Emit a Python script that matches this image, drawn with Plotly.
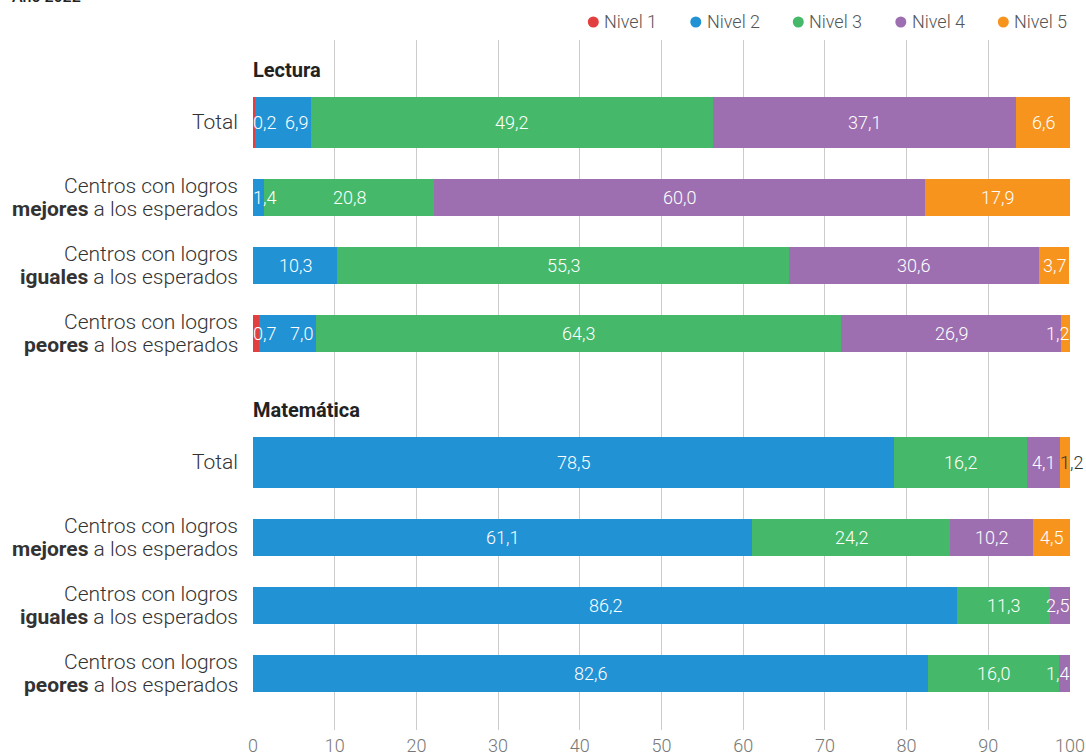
import plotly.graph_objects as go

# ---------------- data ----------------
groups = ["Lectura", "Matemática"]
row_labels = [
    "Total",
    "Centros con logros<br><b>mejores</b> a los esperados",
    "Centros con logros<br><b>iguales</b> a los esperados",
    "Centros con logros<br><b>peores</b> a los esperados",
]
levels = ["Nivel 1", "Nivel 2", "Nivel 3", "Nivel 4", "Nivel 5"]

# values per level, rows: Lectura (Total, mejores, iguales, peores), Matemática (same)
nivel1 = [0.2, None, None, 0.7, None, None, None, None]
nivel2 = [6.9, 1.4, 10.3, 7.0, 78.5, 61.1, 86.2, 82.6]
nivel3 = [49.2, 20.8, 55.3, 64.3, 16.2, 24.2, 11.3, 16.0]
nivel4 = [37.1, 60.0, 30.6, 26.9, 4.1, 10.2, 2.5, 1.4]
nivel5 = [6.6, 17.9, 3.7, 1.2, 1.2, 4.5, None, None]
series = [nivel1, nivel2, nivel3, nivel4, nivel5]

x_ticks = [0, 10, 20, 30, 40, 50, 60, 70, 80, 90, 100]
title_text = "Año 2022"

# ---------------- styling ----------------
colors = ["#e2403f", "#2192d4", "#45b969", "#9d6fb0", "#f7941e"]
FONT = "Roboto"
W, H = 1086, 754
PLOT_L, PLOT_R, PLOT_T, PLOT_B = 253, 1070, 40, 730   # window pixels
ML, MT = PLOT_L, PLOT_T
MR = W - PLOT_R
MB = H - PLOT_B
plot_w = PLOT_R - PLOT_L
plot_h = PLOT_B - PLOT_T
px_per_unit = plot_w / 100.0

# layout positions (in pixel-like units from plot top)
row_offsets = [0, 75, 143, 211]
row_widths = [51, 37, 37, 37]
group_step = 340
first_row = 82
line_gap = 11.5

ypos, widths, cats = [], [], []
header_y = []
for g in range(len(groups)):
    base = first_row + group_step * g
    header_y.append(base - 52)
    for r in range(len(row_labels)):
        ypos.append(base + row_offsets[r])
        widths.append(row_widths[r])
        cats.append(row_labels[r])

fig = go.Figure()
for i, lev in enumerate(levels):
    fig.add_trace(go.Bar(
        x=series[i], y=ypos, width=widths, orientation="h",
        marker=dict(color=colors[i], line=dict(width=0)),
        name=lev, showlegend=False, hoverinfo="x+name",
    ))

annotations = []
shapes = []


def fmt(v):
    return f"{v:.1f}".replace(".", ",")


def text_w(s):
    digits = sum(ch.isdigit() for ch in s)
    return (10.1 * digits + 4.5 * (len(s) - digits)) / px_per_unit  # data units

# segment value labels
for r in range(len(ypos)):
    start = 0.0
    prev_right = -1e9
    for i in range(len(levels)):
        v = series[i][r]
        if v is None or v == 0:
            continue
        end = start + v
        s = fmt(v)
        w = text_w(s)
        c = (start + end) / 2
        left, right = c - w / 2, c + w / 2
        anchor, xpos, color, shift = "center", c, "white", 0
        if left < 0:
            anchor, xpos, shift = "left", 0, -2
            left, right = 0, w
        elif right > 100:
            anchor, xpos, shift = "right", 100, 1
            left, right = 100 - w, 100
        if left < prev_right:
            # try right-aligned in its own segment
            anchor, xpos, shift = "right", end, -1
            left, right = end - w, end
            if left < prev_right:
                anchor, xpos, shift, color = "left", start, -2, "#333333"
                left, right = start, start + w
        annotations.append(dict(
            x=xpos, y=ypos[r], xref="x", yref="y", text=s, showarrow=False,
            xanchor=anchor, yanchor="middle", xshift=shift,
            font=dict(family=FONT, size=18, color=color, weight=300),
        ))
        prev_right = right
        start = end

# category labels (each line separately for tight line spacing)
for r in range(len(ypos)):
    lines = cats[r].split("<br>")
    n = len(lines)
    for k, line in enumerate(lines):
        dy = (k - (n - 1) / 2) * 2 * line_gap
        annotations.append(dict(
            x=0, y=ypos[r] + dy, xref="paper", yref="y", text=line, showarrow=False,
            xanchor="right", yanchor="middle", align="right", xshift=-13,
            font=dict(family=FONT, size=21, color="#333333", weight=300),
        ))

# group headers
for g, name in enumerate(groups):
    annotations.append(dict(
        x=0, y=header_y[g], xref="paper", yref="y", text=f"<b>{name}</b>",
        showarrow=False, xanchor="left", yanchor="middle", xshift=-2,
        font=dict(family=FONT, size=20, color="#222222"),
    ))

# legend (dots + text), right aligned at the top
leg_y = 1 + 18 / plot_h
leg_step = 102.5
leg_first = 593.3
for i, lev in enumerate(levels):
    cx = (leg_first + leg_step * i - PLOT_L) / plot_w
    shapes.append(dict(
        type="circle", xref="paper", yref="paper", xsizemode="pixel", ysizemode="pixel",
        xanchor=cx, yanchor=leg_y, x0=-5.5, x1=5.5, y0=-5.5, y1=5.5,
        fillcolor=colors[i], line=dict(width=0),
    ))
    annotations.append(dict(
        x=cx, y=leg_y, xref="paper", yref="paper", text=lev, showarrow=False,
        xanchor="left", yanchor="middle", xshift=9,
        font=dict(family=FONT, size=18, color="#555555", weight=300),
    ))

# title (mostly cropped at the top, as in the reference)
annotations.append(dict(
    x=(10 - PLOT_L) / plot_w, y=1 + (PLOT_T - 8) / plot_h, xref="paper", yref="paper",
    xanchor="left", yanchor="bottom", text=title_text, showarrow=False,
    font=dict(family=FONT, size=16, color="#222222", weight=500),
))

fig.update_layout(
    width=W, height=H,
    margin=dict(l=ML, r=MR, t=MT, b=MB, pad=0, autoexpand=False),
    paper_bgcolor="white", plot_bgcolor="white",
    barmode="stack", bargap=0,
    font=dict(family=FONT, color="#555555"),
    showlegend=False,
    annotations=annotations,
    shapes=shapes,
    xaxis=dict(range=[0, 100], tickvals=x_ticks, ticktext=[str(t) for t in x_ticks],
               showgrid=True, gridcolor="#cccccc", gridwidth=1, zeroline=False,
               showline=False, ticks="", fixedrange=True, automargin=False,
               ticklabelstandoff=3,
               tickfont=dict(family=FONT, size=18, color="#777777", weight=300)),
    yaxis=dict(range=[plot_h, 0], showticklabels=False, showgrid=False,
               zeroline=False, showline=False, ticks="", fixedrange=True),
)

fig.write_html(
    "out.html",
    config={"displayModeBar": False},
    post_script="document.body.style.margin='0';document.body.style.overflow='hidden';",
)
